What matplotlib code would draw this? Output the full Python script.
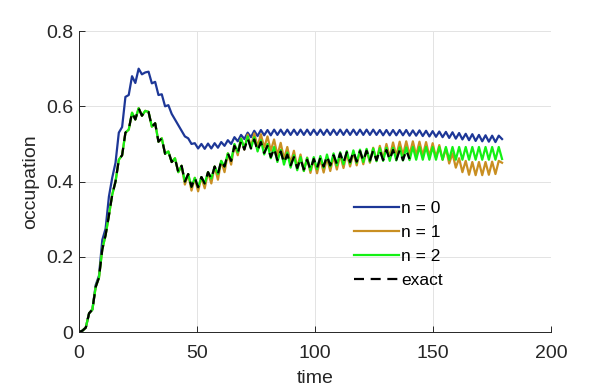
import numpy as np
import matplotlib
matplotlib.use("Agg")
import matplotlib.pyplot as plt

plt.rcParams['font.family'] = ['Liberation Sans', 'DejaVu Sans']

# time grid (half-period sampling of the fast oscillation)
time = np.arange(0, 180.01, 1.4)

exact = [
    0.000, 0.004, 0.012, 0.050, 0.060, 0.120, 0.145, 0.220, 0.258, 0.310,
    0.365, 0.400, 0.458, 0.470, 0.530, 0.538, 0.583, 0.565, 0.595, 0.575,
    0.588, 0.585, 0.546, 0.555, 0.506, 0.515, 0.474, 0.480, 0.452, 0.462,
    0.425, 0.442, 0.400, 0.420, 0.386, 0.410, 0.385, 0.412, 0.395, 0.425,
    0.408, 0.440, 0.420, 0.455, 0.440, 0.475, 0.455, 0.495, 0.475, 0.508,
    0.485, 0.515, 0.488, 0.512, 0.482, 0.505, 0.476, 0.495, 0.465, 0.488,
    0.457, 0.480, 0.450, 0.472, 0.443, 0.465, 0.436, 0.460, 0.432, 0.458,
    0.432, 0.460, 0.436, 0.463, 0.440, 0.468, 0.443, 0.470, 0.447, 0.475,
    0.450, 0.478, 0.452, 0.480, 0.453, 0.481, 0.455, 0.482, 0.456, 0.483,
    0.457, 0.483, 0.457, 0.484, 0.458, 0.484, 0.458, 0.483, 0.457, 0.483,
    0.460,
]

n2 = exact[:46] + [
    0.456, 0.500, 0.478, 0.514, 0.488, 0.520, 0.488, 0.518, 0.480, 0.510,
    0.472, 0.500, 0.462, 0.492, 0.452, 0.484, 0.445, 0.477, 0.437, 0.470,
    0.430, 0.465, 0.428, 0.463, 0.430, 0.465, 0.433, 0.468, 0.437, 0.472,
    0.440, 0.475, 0.443, 0.478, 0.446, 0.481, 0.448, 0.483, 0.450, 0.485,
    0.452, 0.487, 0.453, 0.488, 0.454, 0.489, 0.455, 0.490, 0.455, 0.490,
    0.456, 0.491, 0.456, 0.491, 0.457, 0.492, 0.458, 0.492, 0.458, 0.492,
    0.458, 0.492, 0.458, 0.492, 0.458, 0.492, 0.458, 0.492, 0.458, 0.492,
    0.458, 0.492, 0.458, 0.492, 0.458, 0.492, 0.458, 0.492, 0.458, 0.492,
    0.458, 0.492, 0.460,
]

n1 = exact[:32] + [
    0.392, 0.420, 0.376, 0.410, 0.374, 0.412, 0.382, 0.425, 0.395, 0.440,
    0.405, 0.455, 0.425, 0.475, 0.445, 0.498, 0.470, 0.515, 0.485, 0.525,
    0.492, 0.528, 0.493, 0.526, 0.490, 0.520, 0.482, 0.512, 0.470, 0.503,
    0.460, 0.492, 0.448, 0.482, 0.437, 0.472, 0.428, 0.464, 0.423, 0.460,
    0.422, 0.460, 0.424, 0.463, 0.428, 0.467, 0.432, 0.471, 0.436, 0.475,
    0.440, 0.478, 0.443, 0.482, 0.446, 0.485, 0.450, 0.490, 0.455, 0.495,
    0.460, 0.500, 0.465, 0.504, 0.468, 0.506, 0.470, 0.507, 0.471, 0.507,
    0.470, 0.506, 0.469, 0.505, 0.467, 0.502, 0.464, 0.497, 0.458, 0.488,
    0.448, 0.475, 0.437, 0.462, 0.425, 0.455, 0.418, 0.452, 0.417, 0.452,
    0.417, 0.452, 0.418, 0.453, 0.420, 0.455, 0.450,
]

n0 = [
    0.000, 0.004, 0.012, 0.050, 0.060, 0.125, 0.150, 0.245, 0.275, 0.360,
    0.410, 0.450, 0.530, 0.545, 0.625, 0.630, 0.680, 0.662, 0.700, 0.685,
    0.690, 0.692, 0.661, 0.665, 0.630, 0.632, 0.600, 0.603, 0.580, 0.565,
    0.550, 0.535, 0.520, 0.515, 0.500, 0.502, 0.488, 0.500, 0.487, 0.501,
    0.488, 0.502, 0.490, 0.505, 0.495, 0.510, 0.500, 0.518, 0.507, 0.524,
    0.513, 0.530, 0.518, 0.535, 0.521, 0.537,
    0.523, 0.537, 0.523, 0.538, 0.524, 0.538, 0.524, 0.538, 0.524, 0.538,
    0.524, 0.538, 0.524, 0.538, 0.524, 0.538, 0.524, 0.538, 0.524, 0.538,
    0.524, 0.538, 0.524, 0.538, 0.524, 0.538, 0.524, 0.538, 0.524, 0.538,
    0.524, 0.538, 0.524, 0.538, 0.524, 0.537, 0.523, 0.537, 0.523, 0.537,
    0.523, 0.537, 0.523, 0.537, 0.522, 0.536, 0.522, 0.536, 0.521, 0.535,
    0.520, 0.534, 0.519, 0.533, 0.518, 0.532, 0.516, 0.531, 0.514, 0.529,
    0.512, 0.527, 0.510, 0.526, 0.508, 0.524, 0.507, 0.523, 0.506, 0.522,
    0.505, 0.522, 0.513,
]

labels = ['n = 0', 'n = 1', 'n = 2', 'exact']
colors = ['#1d3797', '#c98f22', '#14f014', 'black']

xticks = [0, 50, 100, 150, 200]
yticks = [0, 0.2, 0.4, 0.6, 0.8]

fig = plt.figure(figsize=(6.09, 3.88), dpi=100)
ax = fig.add_axes([0.130, 0.144, 0.775, 0.776])

for y, c, lab in zip([n0, n1, n2], colors[:3], labels[:3]):
    ax.plot(time[:len(y)], y, color=c, lw=1.6, label=lab)
ax.plot(time[:len(exact)], exact, color='black', lw=1.6, ls=(0, (4.5, 3)), label=labels[3])

ax.set_xlim(0, 200)
ax.set_ylim(0, 0.8)
ax.set_xticks(xticks)
ax.set_yticks(yticks)
ax.set_xticklabels([str(v) for v in xticks])
ax.set_yticklabels(['0', '0.2', '0.4', '0.6', '0.8'])
ax.grid(True, color='#e3e3e3', lw=0.7)
ax.set_axisbelow(True)
for s in ['top', 'right']:
    ax.spines[s].set_visible(False)
for s in ['left', 'bottom']:
    ax.spines[s].set_color('#262626')
    ax.spines[s].set_linewidth(0.7)
ax.tick_params(direction='in', length=4, width=0.7, colors='#262626', labelsize=14)
ax.tick_params(axis='x', pad=9.5)
ax.tick_params(axis='y', pad=4)
ax.set_xlabel('time', fontsize=14, color='#262626', labelpad=5.5)
ax.set_ylabel('occupation', fontsize=14, color='#262626', labelpad=5)

leg = ax.legend(loc='upper left', bbox_to_anchor=(0.582, 0.437), frameon=False,
                fontsize=12.5, handlelength=2.6, handletextpad=0.12, labelspacing=0.52,
                borderaxespad=0, borderpad=0)

fig.savefig('out.png', dpi=100)
